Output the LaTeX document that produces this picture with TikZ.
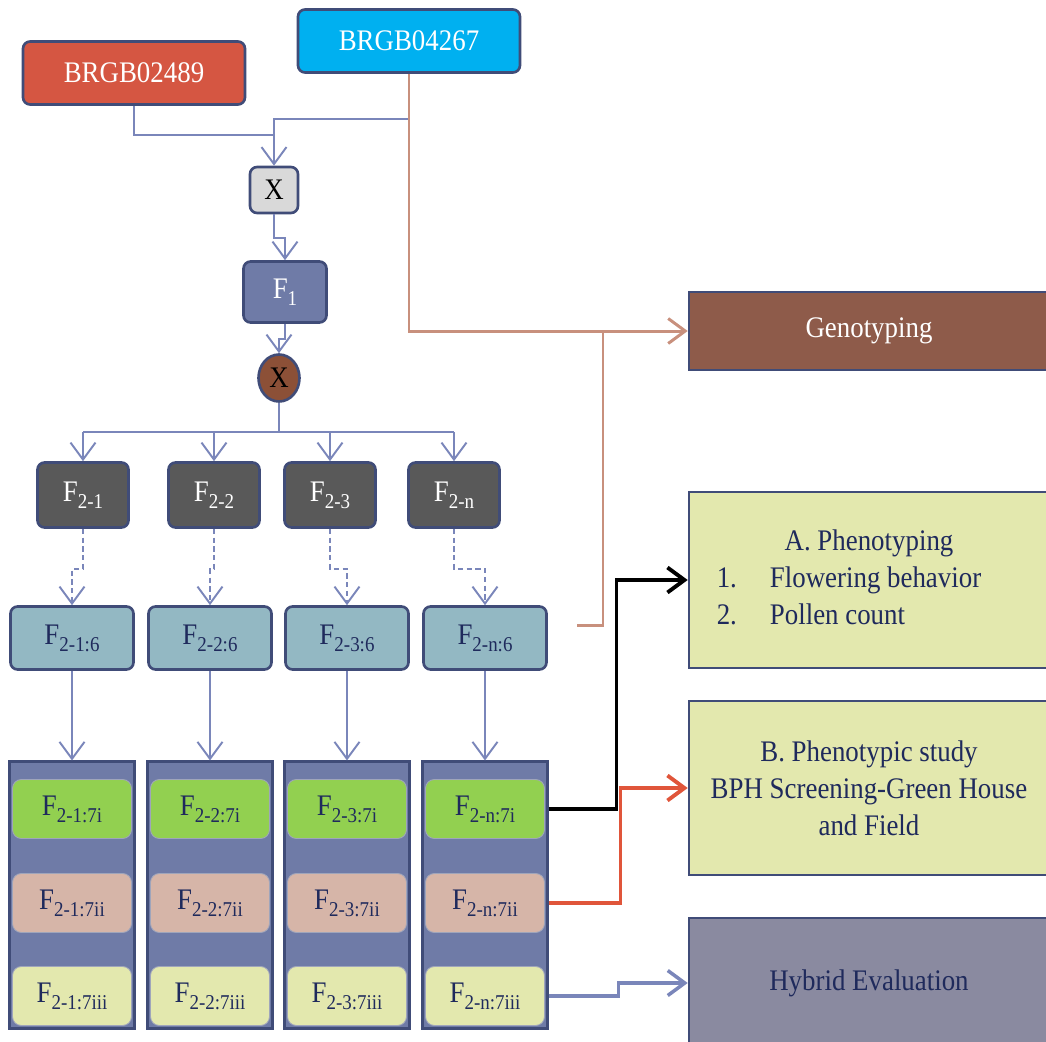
\documentclass[tikz,border=0pt]{standalone}
\usepackage{fontspec}
\setmainfont{Liberation Serif}[FakeStretch=0.9]
\usepackage{tikz}
\usetikzlibrary{arrows.meta,positioning,shapes.geometric}
\definecolor{edgenavy}{RGB}{64,76,120}
\definecolor{textnavy}{RGB}{31,42,92}
\definecolor{parentred}{RGB}{213,86,66}
\definecolor{parentcyan}{RGB}{0,176,240}
\definecolor{crossgrey}{RGB}{217,217,217}
\definecolor{slateblue}{RGB}{111,123,167}
\definecolor{selfbrown}{RGB}{140,80,55}
\definecolor{darkgrey}{RGB}{89,89,89}
\definecolor{sixteal}{RGB}{147,184,195}
\definecolor{limegreen}{RGB}{146,208,80}
\definecolor{rosepink}{RGB}{214,181,168}
\definecolor{paleyellow}{RGB}{227,232,174}
\definecolor{genobrown}{RGB}{142,91,74}
\definecolor{hybgrey}{RGB}{138,138,160}
\definecolor{linkslate}{RGB}{122,134,186}
\definecolor{linkbrown}{RGB}{200,144,125}
\definecolor{linkred}{RGB}{224,85,58}
\newcommand{\fgen}[1]{F\raisebox{-4pt}{\fontsize{12}{12}\selectfont #1}}
\tikzset{
  base/.style={font=\fontsize{17}{21}\selectfont, align=center, inner sep=0pt, text=textnavy},
  box/.style={base, rectangle, rounded corners=4pt, draw=edgenavy, line width=1.5pt},
  parent/.style={box, text=white, minimum width=4.44cm, minimum height=1.26cm},
  cross/.style={box, text=black, fill=crossgrey, minimum width=0.96cm, minimum height=0.92cm},
  fone/.style={box, text=white, fill=slateblue, minimum width=1.66cm, minimum height=1.22cm},
  selfx/.style={base, ellipse, text=black, fill=selfbrown, draw=edgenavy, line width=1.5pt, minimum width=0.82cm, minimum height=0.94cm},
  ftwo/.style={box, text=white, fill=darkgrey, minimum width=1.82cm, minimum height=1.3cm},
  fsix/.style={box, fill=sixteal, minimum width=2.46cm, minimum height=1.26cm},
  column/.style={base, rectangle, fill=slateblue, draw=edgenavy, line width=1.2pt, minimum width=2.5cm, minimum height=5.34cm},
  sel/.style={base, rectangle, rounded corners=5pt, draw=edgenavy!50, line width=0.5pt, minimum width=2.38cm, minimum height=1.18cm},
  task/.style={base, rectangle, draw=edgenavy, line width=1.5pt, minimum width=7.2cm},
  ln/.style={line width=1.1pt, draw=linkslate},
  arr/.style={ln, -{Straight Barb[length=3.4mm,width=5mm]}},
  arrb/.style={arr, draw=linkbrown, line width=1.7pt},
  brn/.style={line width=1.7pt, draw=linkbrown},
  arrk/.style={arr, draw=black, line width=2.2pt},
  arrr/.style={arr, draw=linkred, line width=2.2pt},
  arrs/.style={arr, line width=2pt},
}
\begin{document}
\begin{tikzpicture}[x=0.02cm,y=-0.02cm]
  \useasboundingbox (0,0) rectangle (1046,1042);
  \clip (0,0) rectangle (1046,1042);
  % parents and crosses
  \node[parent,fill=parentred] (p1) at (134,73) {BRGB02489};
  \node[parent,fill=parentcyan] (p2) at (409,41) {BRGB04267};
  \node[cross] (x1) at (274,190) {X};
  \node[fone] (f1) at (285,292) {\fgen{1}};
  \node[selfx] (x2) at (279,378) {X};
  % F2 lines, one column each
  \foreach \i/\cx/\sx/\lb in {1/72/83/1,2/210/214/2,3/347/330/3,4/485/454/n}{
    \node[ftwo] (f2\i) at (\sx,495) {\fgen{2-\lb}};
    \node[fsix] (g\i) at (\cx,638) {\fgen{2-\lb:6}};
    \node[column] (c\i) at (\cx,895) {};
    \node[sel,fill=limegreen] (a\i) at (\cx,809) {\fgen{2-\lb:7i}};
    \node[sel,fill=rosepink] (b\i) at (\cx,903) {\fgen{2-\lb:7ii}};
    \node[sel,fill=paleyellow] (e\i) at (\cx,996) {\fgen{2-\lb:7iii}};
  }
  % tasks
  \node[task,fill=genobrown,text=white,minimum height=1.56cm] (geno) at (869,331) {Genotyping};
  \node[task,fill=paleyellow,minimum height=3.52cm] (phen) at (869,580)
    {\begin{tabular}{@{}l@{\hspace{0.66cm}}l@{\hspace{0.8cm}}}
      \multicolumn{2}{c}{A. Phenotyping}\\
      1.&Flowering behavior\\
      2.&Pollen count
    \end{tabular}};
  \node[task,fill=paleyellow,minimum height=3.48cm] (study) at (869,788) {B. Phenotypic study\\BPH Screening-Green House\\and Field};
  \node[task,fill=hybgrey,minimum height=2.6cm] (hyb) at (869,983) {Hybrid Evaluation};
  % crossing
  \coordinate (m1) at (274,119);
  \coordinate (m2) at (274,135);
  \coordinate (sp) at (279,432);
  \draw[ln] (p1.south) |- (m2);
  \draw[arr] (p2.south) |- (m1) -- (x1.north);
  \draw[arr] (x1.south) -- ++(0,24) -| (f1.north);
  \draw[arr] (f1.south) -- ++(0,15) -| (x2.north);
  \draw[ln] (x2.south) -- (sp);
  \draw[ln] (f21.north |- sp) -- (f24.north |- sp);
  \foreach \i in {1,...,4}{
    \draw[arr] (f2\i.north |- sp) -- (f2\i.north);
    \draw[arr,dash pattern=on 3pt off 2pt] (f2\i.south) -- ++(0,40) -| (g\i.north);
    \draw[arr] (g\i.south) -- (c\i.north);
  }
  % links to the tasks
  \coordinate (gj) at (603,331);
  \coordinate (gs) at (577,625);
  \draw[arrb] (p2.south) |- (geno.west);
  \draw[brn] (gj) |- (gs);
  \draw[arrk] (c4.east |- a4) -- ++(68,0) |- (phen.west);
  \draw[arrr] (c4.east |- b4) -- ++(72,0) |- (study.west);
  \draw[arrs] (c4.east |- e4) -- ++(70,0) |- (hyb.west);
\end{tikzpicture}
\end{document}
